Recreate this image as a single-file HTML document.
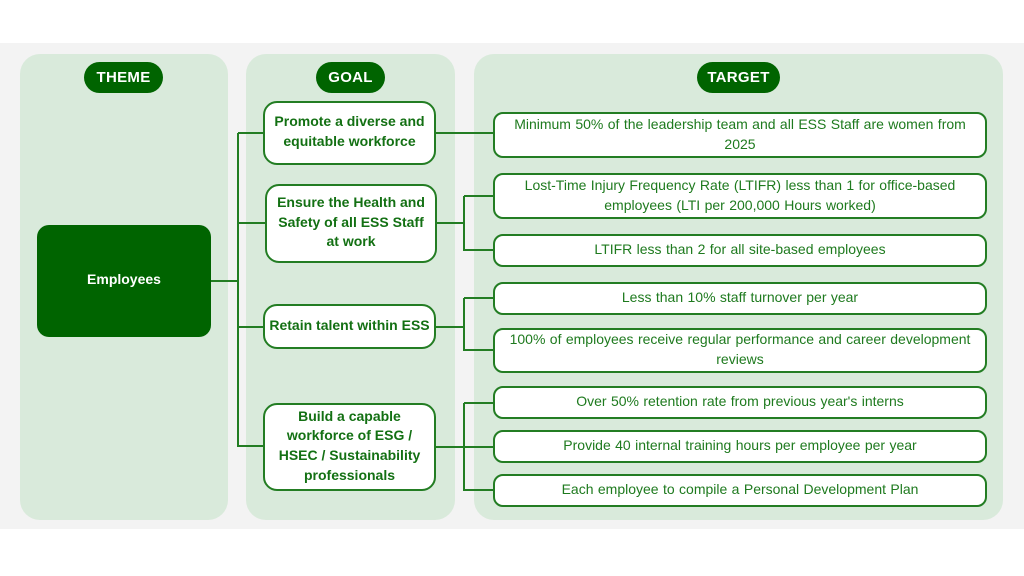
<!DOCTYPE html>
<html><head><meta charset="utf-8"><style>
*{margin:0;padding:0;box-sizing:border-box}
body{width:1024px;height:576px;background:#fff;position:relative;overflow:hidden;font-family:"Liberation Sans",Arial,sans-serif}
.band{position:absolute;left:0;top:43px;width:1024px;height:486px;background:#f3f3f3}
.panel{position:absolute;background:#d9eadb;border-radius:20px}
.pill{position:absolute;background:#006400;color:#fff;font-weight:bold;font-size:15px;border-radius:16px;display:flex;align-items:center;justify-content:center;letter-spacing:0.3px}
.theme{position:absolute;left:37px;top:225px;width:174px;height:112px;background:#006400;border-radius:12px;color:#fff;font-weight:bold;font-size:14px;display:flex;align-items:center;justify-content:center;padding-bottom:4px}
.goal{position:absolute;background:#fff;border:2px solid #237d23;border-radius:14px;color:#137013;font-weight:bold;font-size:14px;line-height:19.7px;text-align:center;display:flex;align-items:center;justify-content:center;white-space:nowrap;padding-bottom:2px}
.tgt{position:absolute;left:493px;width:494px;background:#fff;border:2px solid #237d23;border-radius:10px;color:#1e7a1e;font-size:14px;line-height:20px;text-align:center;display:flex;align-items:center;justify-content:center;white-space:nowrap;padding-bottom:3px;word-spacing:0.5px}
svg{position:absolute;left:0;top:0}
</style></head><body>
<div class="band"></div>
<div class="panel" style="left:20px;top:54px;width:208px;height:466px"></div>
<div class="panel" style="left:246px;top:54px;width:209px;height:466px"></div>
<div class="panel" style="left:474px;top:54px;width:529px;height:466px"></div>
<div class="pill" style="left:84px;top:62px;width:79px;height:31px">THEME</div>
<div class="pill" style="left:316px;top:62px;width:69px;height:31px">GOAL</div>
<div class="pill" style="left:697px;top:62px;width:83px;height:31px">TARGET</div>

<svg width="1024" height="576" viewBox="0 0 1024 576">
<g stroke="#237d23" stroke-width="2" fill="none">
<path d="M211 281H238M238 133V447M238 133H264M238 223H266M238 327H264M238 446H264"/>
<path d="M436 133H494"/>
<path d="M437 223H464M464 196V251M464 196H494M464 250H494"/>
<path d="M436 327H464M464 298V351M464 298H494M464 350H494"/>
<path d="M436 447H494M464 403V491M464 403H494M464 490H494"/>
</g>
</svg>

<div class="theme">Employees</div>

<div class="goal" style="left:263px;top:101px;width:173px;height:64px">Promote a diverse and<br>equitable workforce</div>
<div class="goal" style="left:265px;top:184px;width:172px;height:79px">Ensure the Health and<br>Safety of all ESS Staff<br>at work</div>
<div class="goal" style="left:263px;top:304px;width:173px;height:45px">Retain talent within ESS</div>
<div class="goal" style="left:263px;top:403px;width:173px;height:88px">Build a capable<br>workforce of ESG /<br>HSEC / Sustainability<br>professionals</div>

<div class="tgt" style="top:112px;height:46px">Minimum 50% of the leadership team and all ESS Staff are women from<br>2025</div>
<div class="tgt" style="top:173px;height:46px">Lost-Time Injury Frequency Rate (LTIFR) less than 1 for office-based<br>employees (LTI per 200,000 Hours worked)</div>
<div class="tgt" style="top:234px;height:33px">LTIFR less than 2 for all site-based employees</div>
<div class="tgt" style="top:282px;height:33px">Less than 10% staff turnover per year</div>
<div class="tgt" style="top:328px;height:45px">100% of employees receive regular performance and career development<br>reviews</div>
<div class="tgt" style="top:386px;height:33px">Over 50% retention rate from previous year's interns</div>
<div class="tgt" style="top:430px;height:33px">Provide 40 internal training hours per employee per year</div>
<div class="tgt" style="top:474px;height:33px">Each employee to compile a Personal Development Plan</div>
</body></html>
